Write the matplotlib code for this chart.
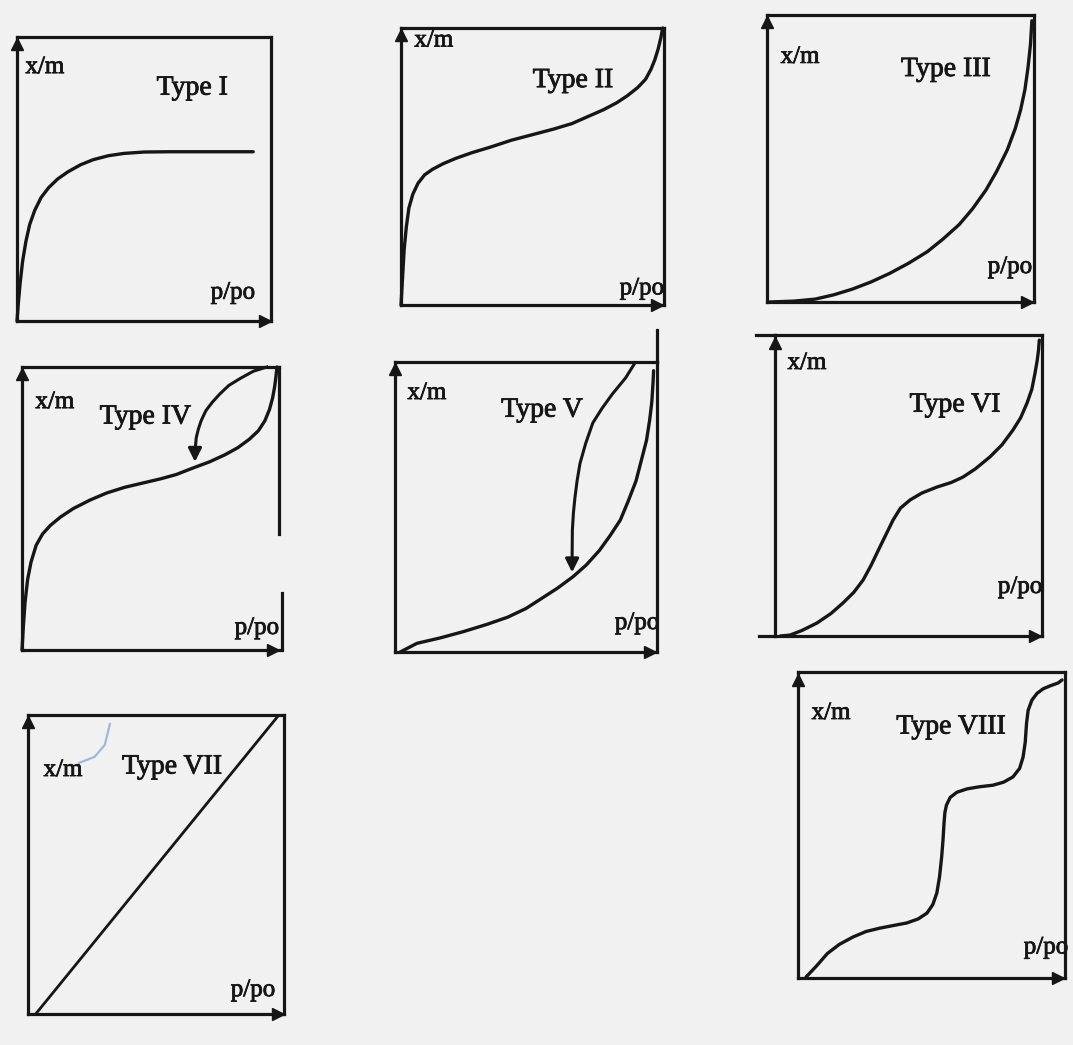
import matplotlib
matplotlib.use("Agg")
import matplotlib.pyplot as plt
import matplotlib.patheffects as pe

W, H = 1073, 1045
INK = "#161616"

plt.rcParams["font.family"] = ["Liberation Serif", "DejaVu Serif"]

# isotherm shapes, x = p/p0 fraction, y = x/m fraction of the box
type1_x = [0.0, 0.005, 0.012, 0.022, 0.035, 0.05, 0.07, 0.095, 0.125, 0.16, 0.2, 0.25,
           0.3, 0.36, 0.42, 0.5, 0.6, 0.93]
type1_y = [0.0, 0.06, 0.13, 0.21, 0.28, 0.34, 0.39, 0.435, 0.47, 0.5, 0.525, 0.55,
           0.568, 0.582, 0.59, 0.595, 0.596, 0.596]

type2_x = [0.0, 0.006, 0.012, 0.02, 0.03, 0.045, 0.065, 0.09, 0.12, 0.16, 0.21, 0.27, 0.34,
           0.42, 0.5, 0.58, 0.65, 0.71, 0.77, 0.82, 0.86, 0.9, 0.93, 0.95, 0.965, 0.978,
           0.988, 0.995]
type2_y = [0.0, 0.1, 0.2, 0.28, 0.35, 0.4, 0.44, 0.47, 0.49, 0.51, 0.53, 0.55, 0.57,
           0.595, 0.615, 0.635, 0.655, 0.68, 0.705, 0.73, 0.755, 0.785, 0.815, 0.85, 0.885,
           0.925, 0.965, 1.0]

type3_x = [0.01, 0.1, 0.18, 0.25, 0.32, 0.39, 0.46, 0.53, 0.6, 0.66, 0.72, 0.77, 0.82,
           0.86, 0.9, 0.93, 0.95, 0.966, 0.978, 0.987, 0.992]
type3_y = [0.0, 0.003, 0.01, 0.025, 0.045, 0.07, 0.1, 0.135, 0.175, 0.22, 0.27, 0.325,
           0.39, 0.455, 0.53, 0.605, 0.67, 0.74, 0.82, 0.9, 0.98]

type4_x = [0.0, 0.005, 0.012, 0.022, 0.035, 0.055, 0.08, 0.11, 0.15, 0.2, 0.265, 0.33,
           0.4, 0.47, 0.54, 0.6, 0.665, 0.73, 0.79, 0.84, 0.885, 0.92, 0.945, 0.963,
           0.975, 0.983, 0.988, 0.992]
type4_y = [0.0, 0.08, 0.17, 0.25, 0.31, 0.37, 0.41, 0.44, 0.47, 0.5, 0.53, 0.555, 0.575,
           0.59, 0.605, 0.62, 0.643, 0.665, 0.69, 0.715, 0.745, 0.775, 0.81, 0.85, 0.89,
           0.93, 0.965, 1.0]
type4_des_x = [0.953, 0.9, 0.85, 0.805, 0.77, 0.74, 0.715, 0.697, 0.686, 0.678, 0.675,
               0.673, 0.673]
type4_des_y = [1.0, 0.985, 0.96, 0.935, 0.905, 0.875, 0.845, 0.81, 0.78, 0.75, 0.72,
               0.7, 0.655]

type5_x = [0.02, 0.084, 0.17, 0.26, 0.35, 0.43, 0.5, 0.56, 0.62, 0.68, 0.73, 0.78, 0.82,
           0.86, 0.89, 0.92, 0.94, 0.96, 0.972, 0.98, 0.985, 0.987]
type5_y = [0.0, 0.03, 0.048, 0.07, 0.095, 0.12, 0.15, 0.185, 0.22, 0.26, 0.3, 0.35, 0.4,
           0.455, 0.52, 0.59, 0.66, 0.73, 0.8, 0.86, 0.93, 0.97]
type5_des_x = [0.916, 0.88, 0.83, 0.79, 0.755, 0.728, 0.706, 0.695, 0.687, 0.681, 0.677,
               0.676, 0.676]
type5_des_y = [0.997, 0.945, 0.89, 0.84, 0.79, 0.72, 0.65, 0.59, 0.534, 0.48, 0.42,
               0.33, 0.265]

type6_x = [0.02, 0.056, 0.1, 0.157, 0.21, 0.255, 0.295, 0.33, 0.36, 0.393, 0.42, 0.442,
           0.47, 0.506, 0.55, 0.607, 0.66, 0.704, 0.75, 0.805, 0.85, 0.891, 0.92, 0.944,
           0.962, 0.974, 0.982, 0.987, 0.99]
type6_y = [0.0, 0.003, 0.018, 0.043, 0.075, 0.11, 0.145, 0.186, 0.235, 0.296, 0.345, 0.385,
           0.425, 0.452, 0.475, 0.495, 0.51, 0.528, 0.555, 0.595, 0.635, 0.684, 0.725,
           0.774, 0.82, 0.874, 0.915, 0.95, 0.983]

type7_x = [0.03, 0.98]
type7_y = [0.0, 1.0]

type8_x = [0.03, 0.07, 0.11, 0.155, 0.206, 0.255, 0.307, 0.36, 0.408, 0.45, 0.483, 0.505,
           0.52, 0.53, 0.538, 0.543, 0.547, 0.55, 0.556, 0.57, 0.595, 0.633, 0.68, 0.73,
           0.77, 0.805, 0.83, 0.843, 0.851, 0.856, 0.862, 0.876, 0.895, 0.918, 0.945,
           0.974, 0.989]
type8_y = [0.003, 0.04, 0.08, 0.11, 0.134, 0.152, 0.163, 0.172, 0.18, 0.193, 0.212, 0.24,
           0.278, 0.33, 0.395, 0.45, 0.507, 0.54, 0.565, 0.59, 0.607, 0.618, 0.625, 0.63,
           0.64, 0.657, 0.685, 0.722, 0.77, 0.833, 0.875, 0.908, 0.93, 0.945, 0.955,
           0.964, 0.974]

fig = plt.figure(figsize=(W / 100, H / 100), dpi=100)
fig.patch.set_facecolor("#f1f1f1")

heavy = [pe.withStroke(linewidth=0.6, foreground=INK)]


def panel(left, top, right, bottom, title, xm_pos, title_pos, pp_pos):
    ax = fig.add_axes([left / W, 1 - bottom / H, (right - left) / W, (bottom - top) / H])
    ax.set_xlim(0, 1)
    ax.set_ylim(0, 1)
    ax.set_xticks([])
    ax.set_yticks([])
    ax.patch.set_alpha(0)
    for sp in ax.spines.values():
        sp.set_linewidth(2.3)
        sp.set_color(INK)
    # axis arrows on the y axis top and x axis end
    ax.plot(0, 0.975, marker="^", ms=8, color=INK, clip_on=False)
    ax.plot(0.975, 0.0, marker=">", ms=9, color=INK, clip_on=False)
    ax.text(*xm_pos, "x/m", fontsize=18, ha="center", va="center", color=INK,
            path_effects=heavy)
    ax.text(*title_pos, title, fontsize=20, ha="center", va="center", color=INK,
            path_effects=heavy)
    ax.text(*pp_pos, "p/po", fontsize=18, ha="center", va="center", color=INK,
            path_effects=heavy)
    return ax


def curve(ax, xs, ys):
    ax.plot(xs, ys, color=INK, lw=2.4, solid_joinstyle="round",
            solid_capstyle="round", clip_on=False)


def branch(ax, xs, ys):
    ax.plot(xs[:-1], ys[:-1], color=INK, lw=2.2, solid_joinstyle="round", clip_on=False)
    ax.annotate("", xy=(xs[-1], ys[-1]), xytext=(xs[-2], ys[-2]),
                arrowprops=dict(arrowstyle="-|>", color=INK, lw=2.2, mutation_scale=20))


# Type I
ax1 = panel(17, 37, 271, 321, "Type I", (0.11, 0.894), (0.69, 0.82), (0.85, 0.1))
curve(ax1, type1_x, type1_y)

# Type II
ax2 = panel(401, 28, 664, 305, "Type II", (0.125, 0.955), (0.654, 0.81), (0.916, 0.06))
curve(ax2, type2_x, type2_y)

# Type III
ax3 = panel(767, 15, 1034, 302, "Type III", (0.124, 0.854), (0.67, 0.81), (0.91, 0.122))
curve(ax3, type3_x, type3_y)

# Type IV with hysteresis loop
ax4 = panel(22, 367, 279, 650, "Type IV", (0.128, 0.876), (0.48, 0.823), (0.914, 0.078))
curve(ax4, type4_x, type4_y)
branch(ax4, type4_des_x, type4_des_y)
ax4.spines["right"].set_visible(False)
ax4.plot([1, 1], [1, 0.41], color=INK, lw=2.3, clip_on=False)
ax4.plot([1.01, 1.01], [0.2, 0.0], color=INK, lw=2.3, clip_on=False)

# Type V with hysteresis loop
ax5 = panel(395, 362, 657, 652, "Type V", (0.122, 0.893), (0.561, 0.834), (0.924, 0.1))
curve(ax5, type5_x, type5_y)
branch(ax5, type5_des_x, type5_des_y)
ax5.plot([1, 1], [1, 1.11], color=INK, lw=2.3, clip_on=False)

# Type VI
ax6 = panel(775, 335, 1042, 636, "Type VI", (0.12, 0.907), (0.674, 0.767), (0.918, 0.163))
curve(ax6, type6_x, type6_y)
ax6.plot([-0.07, 0], [1, 1], color=INK, lw=2.3, clip_on=False)
ax6.plot([-0.06, 0], [0, 0], color=INK, lw=2.3, clip_on=False)

# Type VII
ax7 = panel(28, 715, 284, 1014, "Type VII", (0.137, 0.816), (0.5625, 0.826), (0.879, 0.08))
ax7.plot(type7_x, type7_y, color=INK, lw=2.0)
ax7.plot([0.2, 0.26, 0.3, 0.32], [0.84, 0.86, 0.9, 0.97], color="#8fa8d0", lw=1.6, alpha=0.8)

# Type VIII
ax8 = panel(798, 672, 1065, 978, "Type VIII", (0.124, 0.866), (0.573, 0.82), (0.929, 0.1))
curve(ax8, type8_x, type8_y)

fig.savefig("out.png", dpi=100, facecolor=fig.get_facecolor())
